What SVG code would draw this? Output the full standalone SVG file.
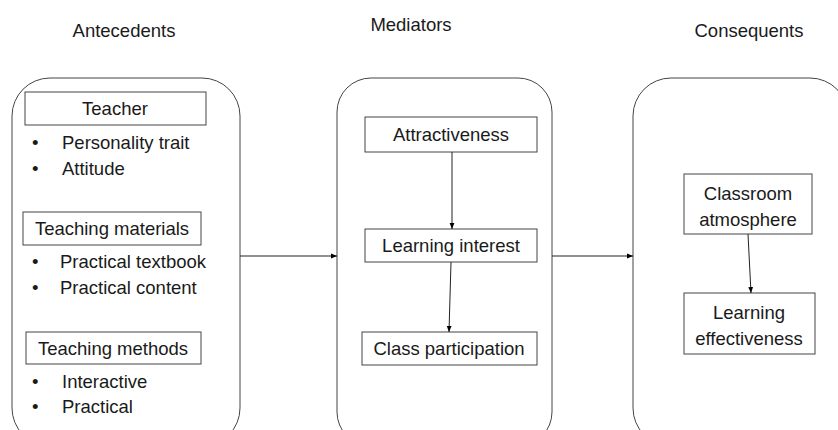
<svg xmlns="http://www.w3.org/2000/svg" width="838" height="430" viewBox="0 0 838 430">
<defs>
<marker id="ah" viewBox="0 0 10 10" refX="10" refY="5" markerWidth="6" markerHeight="6" orient="auto">
<path d="M0,1 L10,5 L0,9 z" fill="#000"/>
</marker>
<style>
text{font-family:"Liberation Sans",Arial,sans-serif;font-size:18.5px;fill:#1a1a1a}
.c{text-anchor:middle}
.cont{fill:#fff;stroke:#444;stroke-width:1}
.box{fill:#fff;stroke:#444;stroke-width:1}
.edge{stroke:#222;stroke-width:1;fill:none;marker-end:url(#ah)}
</style>
</defs>
<rect width="838" height="430" fill="#fff"/>
<text class="c" x="124" y="37">Antecedents</text>
<text class="c" x="411" y="31">Mediators</text>
<text class="c" x="749" y="37">Consequents</text>

<g id="antecedents">
<rect class="cont" x="12" y="78" width="228" height="368" rx="38"/>
<g id="teacher">
<rect class="box" x="25" y="92" width="181" height="33"/>
<text class="c" x="115" y="115">Teacher</text>
<text x="32" y="149">•</text><text x="62" y="149">Personality trait</text>
<text x="32" y="175">•</text><text x="62" y="175">Attitude</text>
</g>
<g id="materials">
<rect class="box" x="23" y="212" width="178" height="33"/>
<text class="c" x="112" y="235">Teaching materials</text>
<text x="32" y="268">•</text><text x="60" y="268">Practical textbook</text>
<text x="32" y="294">•</text><text x="60" y="294">Practical content</text>
</g>
<g id="methods">
<rect class="box" x="26" y="332" width="175" height="32"/>
<text class="c" x="113" y="355">Teaching methods</text>
<text x="32" y="388">•</text><text x="62" y="388">Interactive</text>
<text x="32" y="413">•</text><text x="62" y="413">Practical</text>
</g>
</g>

<g id="mediators">
<rect class="cont" x="337" y="78" width="215" height="368" rx="34"/>
<g id="attractiveness">
<rect class="box" x="365" y="117" width="172" height="35"/>
<text class="c" x="451" y="141">Attractiveness</text>
</g>
<g id="interest">
<rect class="box" x="365" y="229" width="172" height="33"/>
<text class="c" x="451" y="252">Learning interest</text>
</g>
<g id="participation">
<rect class="box" x="362" y="332" width="175" height="33"/>
<text class="c" x="449" y="355">Class participation</text>
</g>
</g>

<g id="consequents">
<rect class="cont" x="633" y="78" width="215" height="368" rx="38"/>
<g id="atmosphere">
<rect class="box" x="684" y="174" width="128" height="60"/>
<text class="c" x="748" y="200">Classroom</text>
<text class="c" x="748" y="226">atmosphere</text>
</g>
<g id="effectiveness">
<rect class="box" x="684" y="293" width="131" height="61"/>
<text class="c" x="749" y="319">Learning</text>
<text class="c" x="749" y="345">effectiveness</text>
</g>
</g>

<g id="connectors">
<line class="edge" x1="240" y1="256" x2="337" y2="256"/>
<line class="edge" x1="552" y1="256" x2="633" y2="256"/>
<line class="edge" x1="452" y1="152" x2="452" y2="229"/>
<line class="edge" x1="451" y1="262" x2="449" y2="332"/>
<line class="edge" x1="748" y1="234" x2="751" y2="293"/>
</g>
</svg>
